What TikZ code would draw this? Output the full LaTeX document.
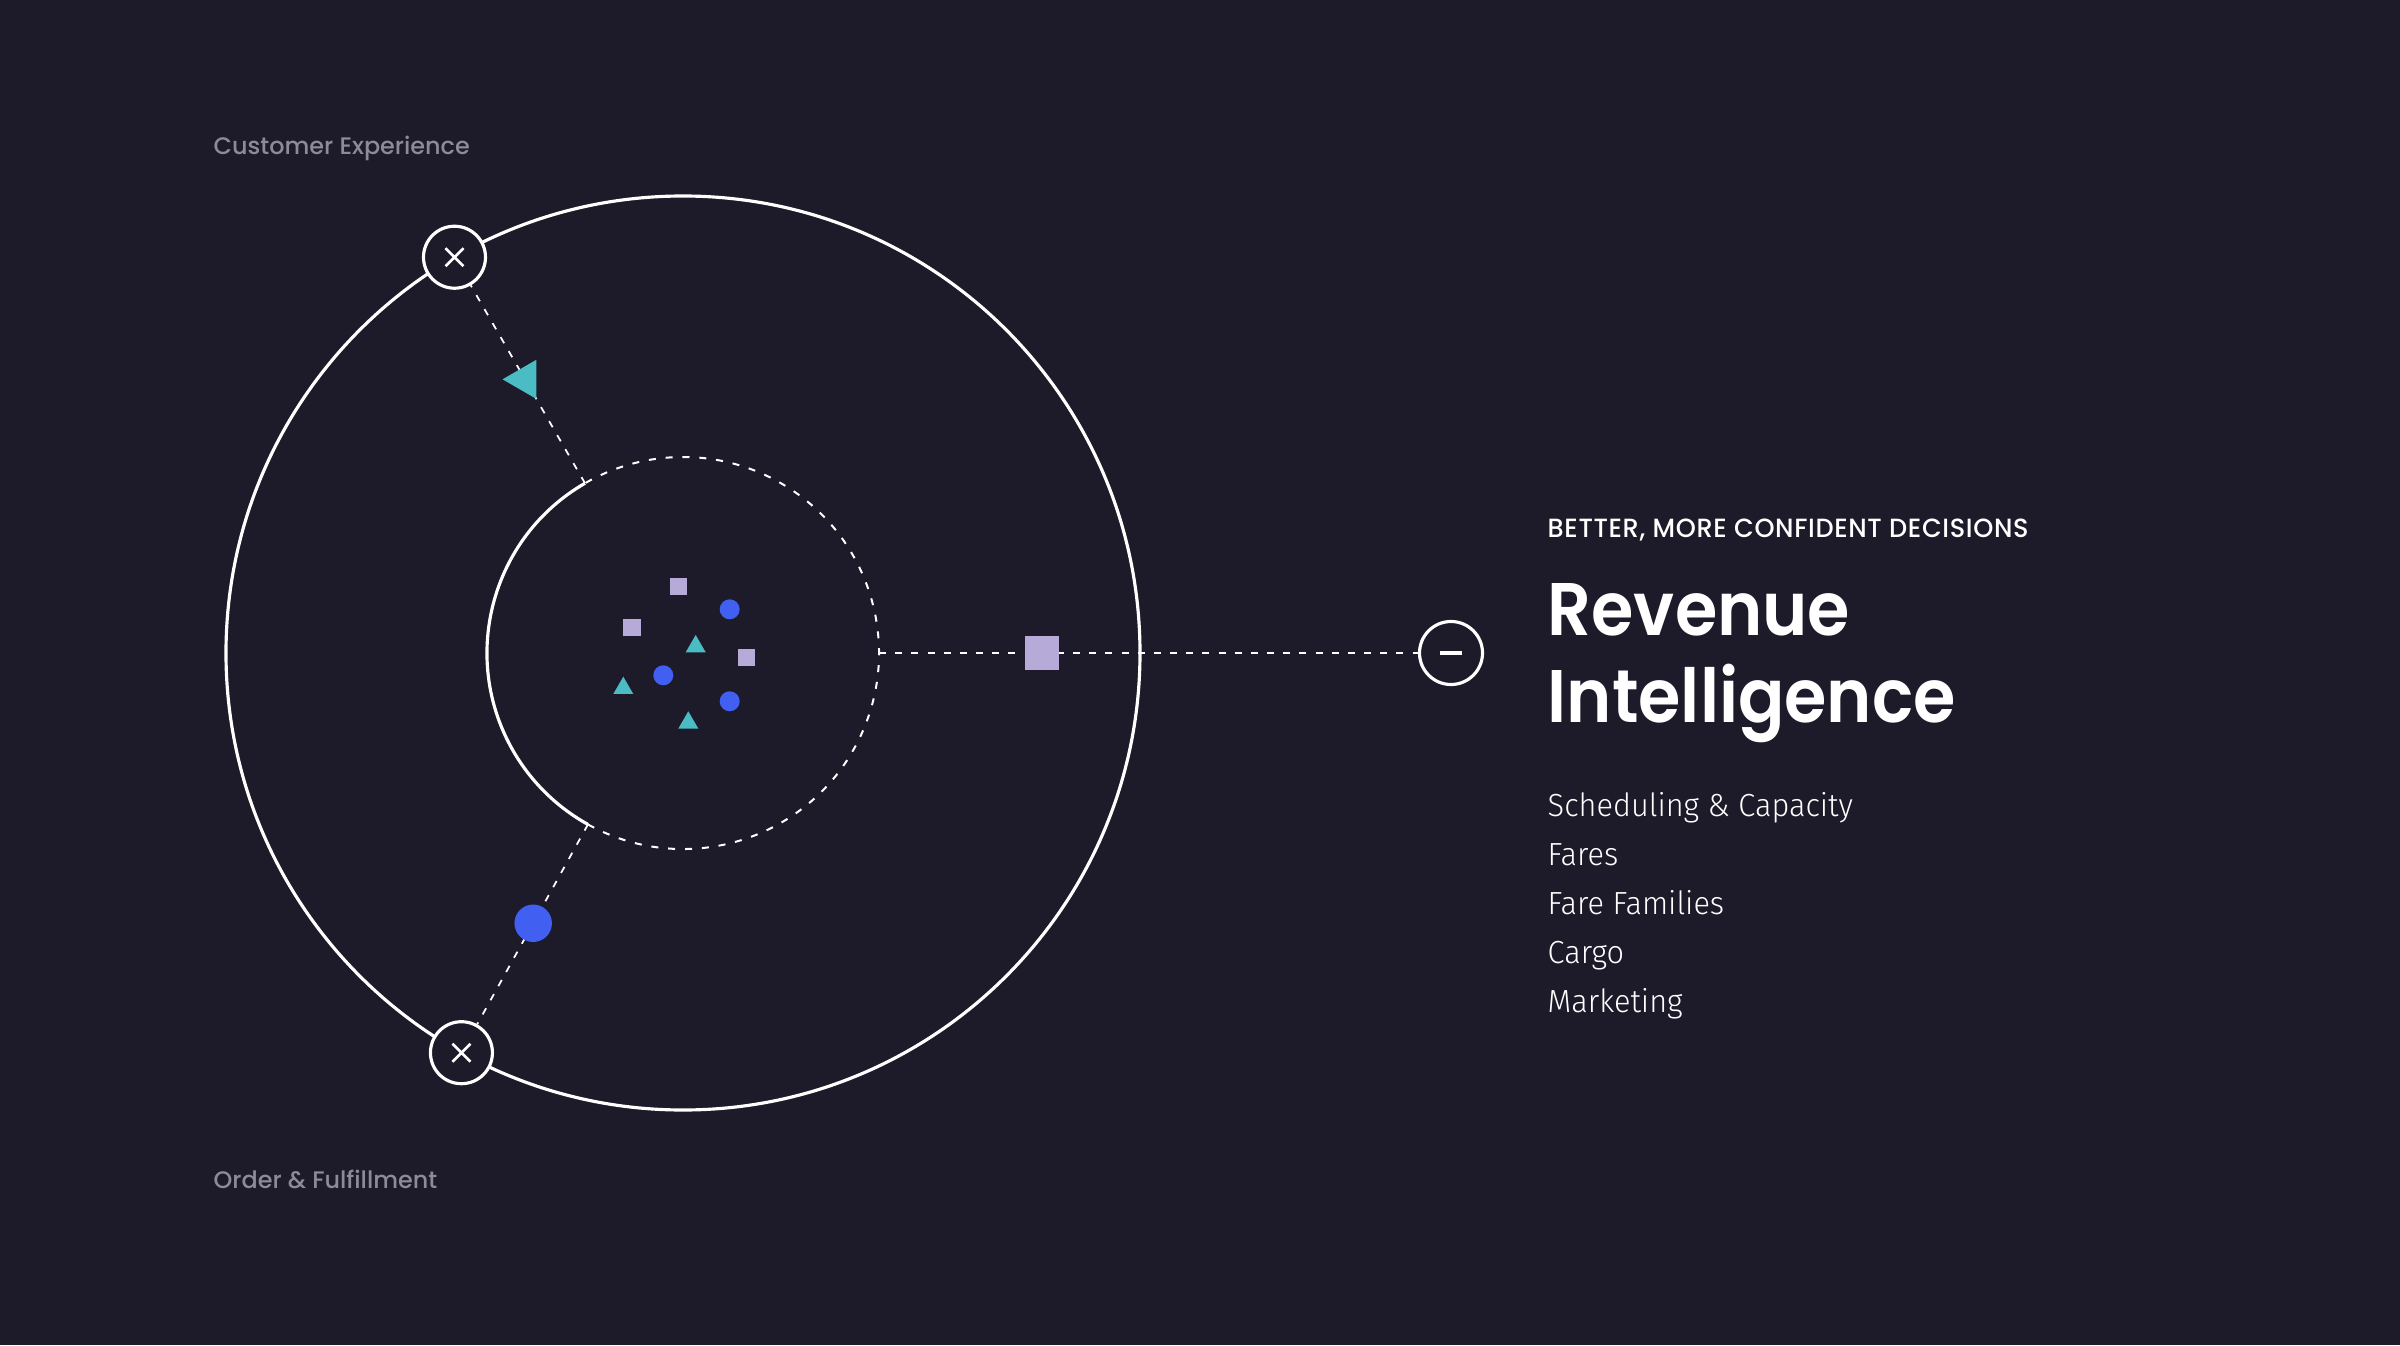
\documentclass[tikz,border=0pt]{standalone}
\usepackage{fontspec}
\usetikzlibrary{positioning,shapes.geometric}
\setmainfont{Poppins}
\newfontfamily\headfont{Poppins SemiBold}[FakeStretch=0.92]
\newfontfamily\tagfont{Poppins Medium}[LetterSpace=2.5,FakeStretch=0.97]
\newfontfamily\sidefont{Poppins Medium}
\newfontfamily\listfont{Fira Sans Light}[FakeStretch=0.96]
\definecolor{bg}{HTML}{1D1A29}
\definecolor{dotblue}{HTML}{4160F2}
\definecolor{triteal}{HTML}{4BBCC4}
\definecolor{sqlav}{HTML}{B5AAD8}
\definecolor{labgray}{HTML}{8E8A99}

\begin{document}
\begin{tikzpicture}[line cap=butt,
        ring/.style={draw=white,line width=0.9pt},
        guide/.style={draw=white,line width=0.5pt,dash pattern=on 2pt off 2.6pt},
        inner guide/.style={draw=white,line width=0.57pt,dash pattern=on 2pt off 2.8pt},
        cross node/.style={circle,draw=white,fill=bg,line width=0.9pt,minimum size=0.62cm,inner sep=0pt,
            path picture={\draw[white,line width=0.75pt]
                (path picture bounding box.center) +(-0.09,-0.09) -- +(0.09,0.09)
                (path picture bounding box.center) +(-0.09,0.09) -- +(0.09,-0.09);}},
        minus node/.style={circle,draw=white,fill=bg,line width=0.9pt,minimum size=0.63cm,inner sep=0pt,
            path picture={\draw[white,line width=0.9pt]
                (path picture bounding box.center) +(-0.11,0) -- +(0.11,0);}},
        sq/.style={rectangle,fill=sqlav,minimum size=#1,inner sep=0pt},
        dot/.style={circle,fill=dotblue,minimum size=#1,inner sep=0pt},
        tri/.style={regular polygon,regular polygon sides=3,fill=triteal,minimum size=#1,inner sep=0pt},
        side text/.style={anchor=base west,inner sep=0pt,text=labgray,font=\sidefont\fontsize{6.8}{8}\selectfont},
        item/.style={anchor=base west,inner sep=0pt,text=white,font=\listfont\fontsize{9.1}{11}\selectfont}]
        \path[use as bounding box,fill=bg] (-6.83,-6.92) rectangle (17.17,6.53);

        % rings
        \draw[ring] (0,0) circle[radius=4.57];
        \coordinate (ui) at (120:1.96);
        \coordinate (li) at (241:1.96);
        \coordinate (ri) at (0:1.96);
        \draw[ring] (ui) arc[start angle=120,end angle=241,radius=1.96];
        \draw[inner guide] (li) arc[start angle=241,end angle=480,radius=1.96];

        \node[cross node] (ux) at (120:4.57) {};
        \node[cross node] (lx) at (241:4.57) {};
        \node[minus node] (mx) at (7.68,0) {};

        \draw[guide] (ui) -- (ux);
        \draw[guide] (li) -- (lx);
        \draw[guide] (ri) -- (mx);

        % markers on the spokes
        \node[tri=0.45cm,shape border rotate=90] (ut) at (120:3.16) {};
        \node[dot=0.375cm] (ld) at (241:3.09) {};
        \node[sq=0.34cm] (rs) at (3.586,0) {};

        % cluster
        \node[sq=0.175cm] (s1) at (-0.043,0.667) {};
        \node[sq=0.175cm] (s2) at (-0.51,0.253) {};
        \node[sq=0.175cm] (s3) at (0.637,-0.043) {};
        \node[dot=0.2cm] (d1) at (0.467,0.437) {};
        \node[dot=0.2cm] (d2) at (-0.197,-0.223) {};
        \node[dot=0.2cm] (d3) at (0.467,-0.483) {};
        \node[tri=0.231cm] (t1) at (0.127,0.065) {};
        \node[tri=0.231cm] (t2) at (-0.597,-0.352) {};
        \node[tri=0.231cm] (t3) at (0.053,-0.698) {};

        % labels
        \node[side text] (cx) at (-4.70,4.98) {Customer Experience};
        \node[side text] (of) at (-4.70,-5.35) {Order \& Fulfillment};

        \node[anchor=base west,inner sep=0pt,text=white,font=\tagfont\fontsize{7.5}{9}\selectfont] (tag) at (8.64,1.16) {BETTER, MORE CONFIDENT DECISIONS};
        \node[anchor=base west,inner sep=0pt,text=white,font=\headfont\fontsize{21.2}{25}\selectfont] (rev) at (8.64,0.18) {Revenue};
        \node[below=0.87cm of rev.base west,anchor=base west,inner sep=0pt,text=white,font=\headfont\fontsize{21.2}{25}\selectfont] (int) {Intelligence};

        \node[item] (sc) at (8.64,-1.637) {Scheduling \& Capacity};
        \node[item,below=0.49cm of sc.base west,anchor=base west] (fa) {Fares};
        \node[item,below=0.49cm of fa.base west,anchor=base west] (ff) {Fare Families};
        \node[item,below=0.49cm of ff.base west,anchor=base west] (ca) {Cargo};
        \node[item,below=0.49cm of ca.base west,anchor=base west] (ma) {Marketing};
\end{tikzpicture}
\end{document}
